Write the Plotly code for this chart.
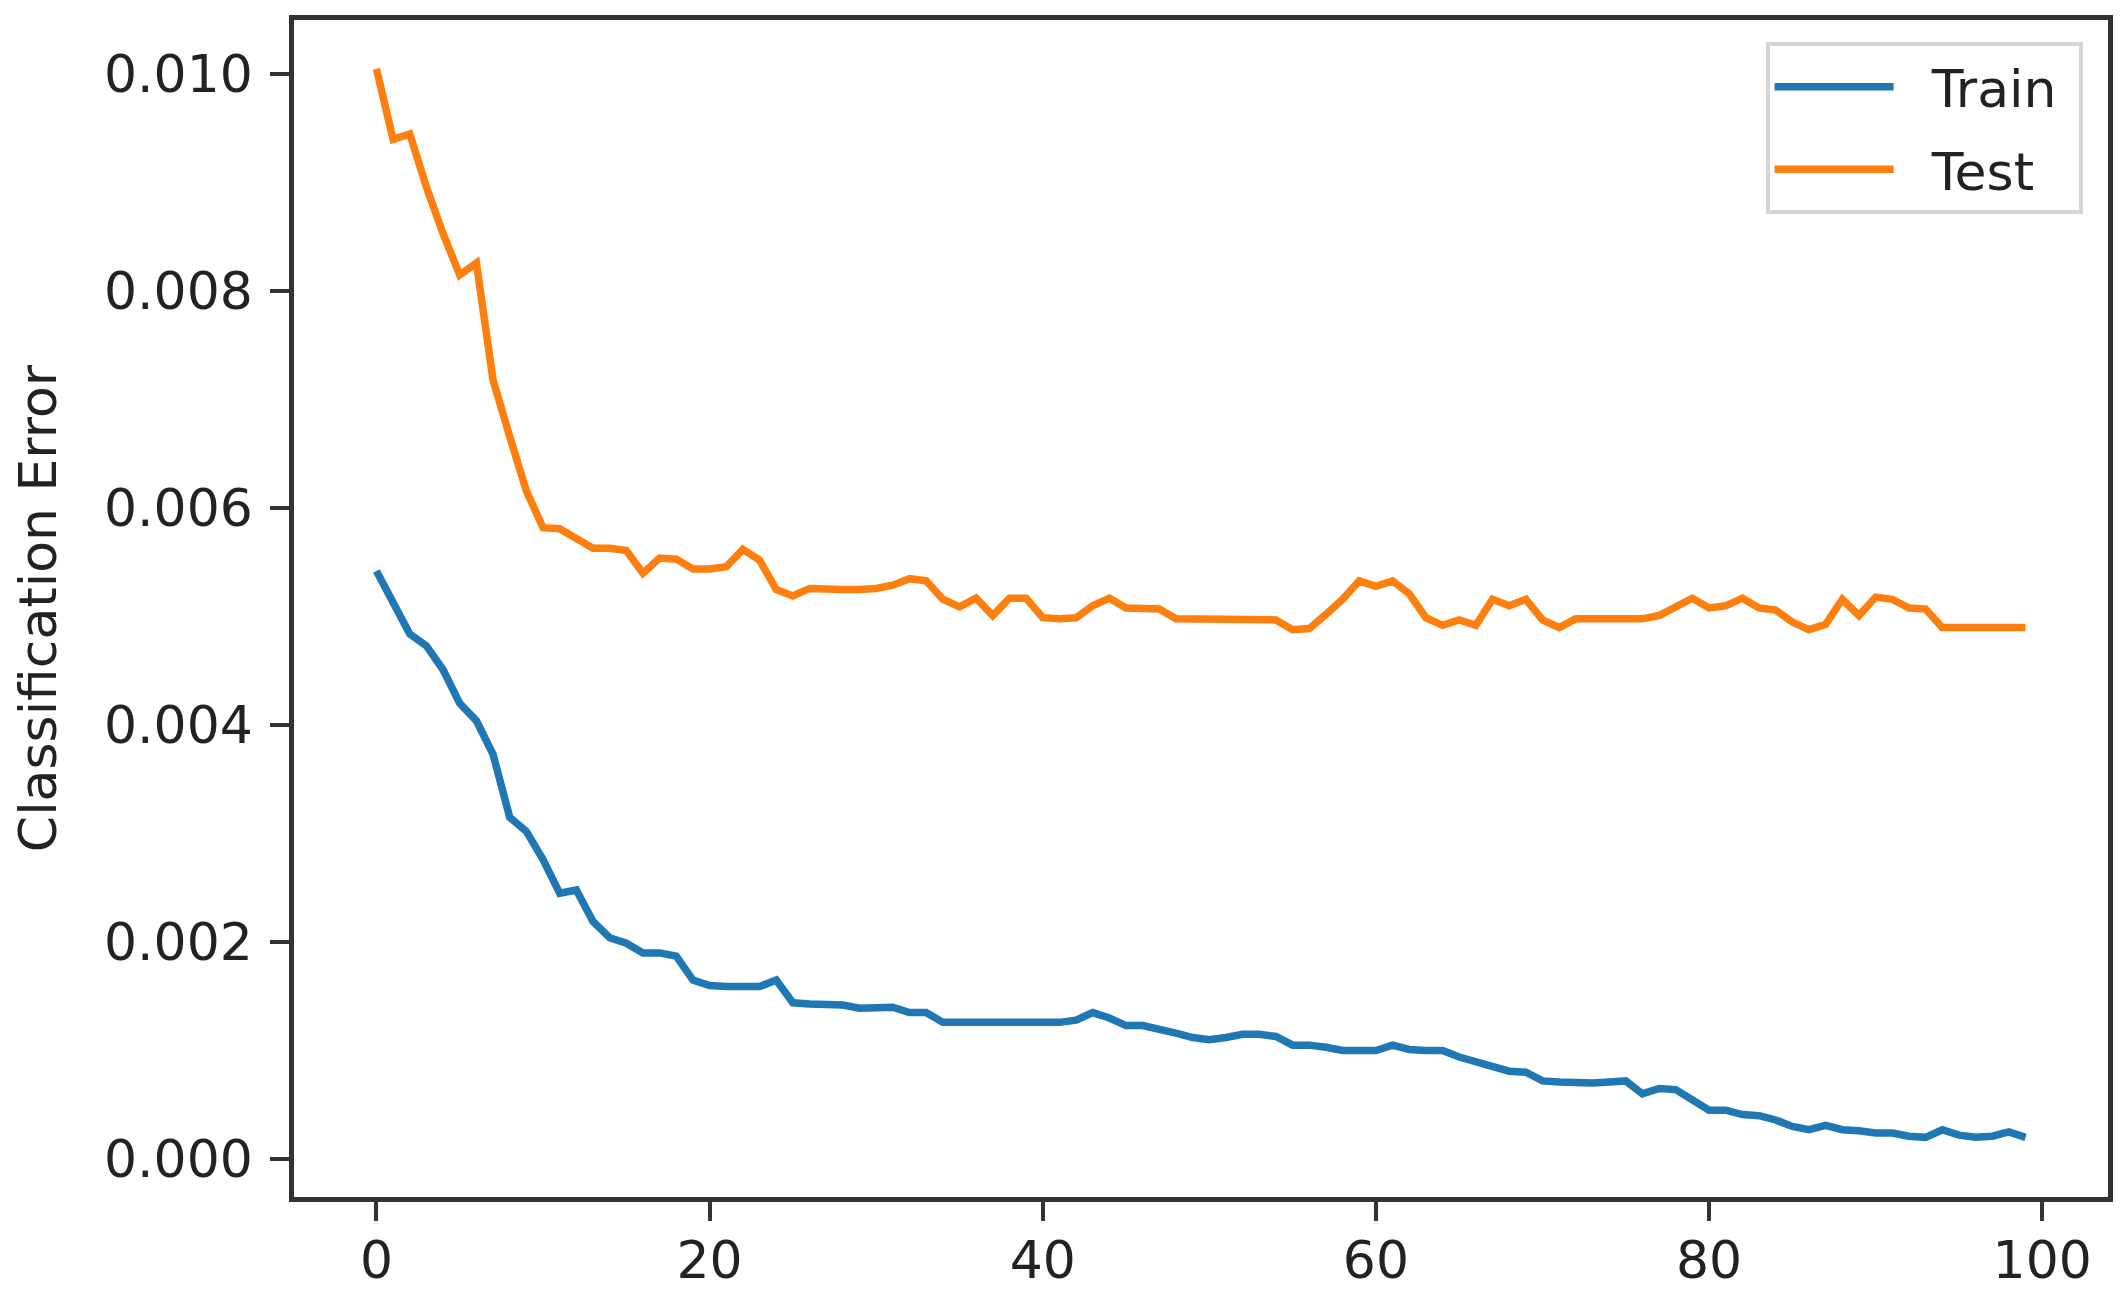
import plotly.graph_objects as go

epochs = list(range(100))

train_err_e4 = [
    54.2, 51.2, 48.4, 47.3, 45.1, 42.0, 40.4, 37.3, 31.5, 30.2,
    27.6, 24.5, 24.8, 21.9, 20.4, 19.9, 19.0, 19.0, 18.7, 16.5,
    16.0, 15.9, 15.9, 15.9, 16.5, 14.4, 14.3, 14.3, 14.2, 13.9,
    14.0, 14.0, 13.5, 13.5, 12.6, 12.6, 12.6, 12.6, 12.6, 12.6,
    12.6, 12.6, 12.8, 13.5, 13.0, 12.3, 12.3, 12.0, 11.6, 11.2,
    11.0, 11.2, 11.5, 11.5, 11.3, 10.5, 10.5, 10.3, 10.0, 10.0,
    10.0, 10.5, 10.1, 10.0, 10.0, 9.4, 9.0, 8.6, 8.1, 8.0,
    7.2, 7.1, 7.0, 7.0, 7.1, 7.2, 6.0, 6.5, 6.4, 5.5,
    4.5, 4.5, 4.1, 4.0, 3.6, 3.0, 2.7, 3.1, 2.7, 2.6,
    2.4, 2.4, 2.1, 2.0, 2.7, 2.2, 2.0, 2.1, 2.5, 2.0,
]

test_err_e4 = [
    100.5, 94.0, 94.5, 89.6, 85.3, 81.5, 82.6, 71.8, 66.6, 61.6,
    58.2, 58.1, 57.2, 56.3, 56.3, 56.1, 54.0, 55.4, 55.3, 54.4,
    54.4, 54.6, 56.2, 55.2, 52.5, 51.9, 52.6, 52.5, 52.5, 52.5,
    52.6, 52.9, 53.5, 53.3, 51.6, 50.9, 51.7, 50.1, 51.7, 51.7,
    49.9, 49.8, 49.9, 51.0, 51.7, 50.8, 50.8, 50.7, 49.8, 49.8,
    49.8, 49.8, 49.8, 49.8, 49.7, 48.8, 48.9, 50.2, 51.6, 53.3,
    52.8, 53.3, 52.1, 49.9, 49.2, 49.7, 49.2, 51.6, 51.0, 51.6,
    49.7, 49.0, 49.8, 49.8, 49.8, 49.8, 49.8, 50.1, 51.0, 51.7,
    50.8, 51.0, 51.7, 50.8, 50.6, 49.5, 48.8, 49.3, 51.6, 50.1,
    51.8, 51.6, 50.8, 50.7, 49.0, 49.0, 49.0, 49.0, 49.0, 49.0,
]

train_err = [v * 1e-4 for v in train_err_e4]
test_err = [v * 1e-4 for v in test_err_e4]

x_ticks = [0, 20, 40, 60, 80, 100]
y_ticks = [0.000, 0.002, 0.004, 0.006, 0.008, 0.010]
y_title = "Classification Error"
series_names = ["Train", "Test"]

FONT = "DejaVu Sans, Liberation Sans, sans-serif"
TXT = "#222222"
AX = "#333333"
NB = "\u00a0"

fig = go.Figure()
fig.add_trace(go.Scatter(x=epochs, y=train_err, mode="lines",
                         name=NB * 2 + series_names[0] + NB, legendgroup="a",
                         line=dict(color="#1f77b4", width=7.5)))
fig.add_trace(go.Scatter(x=epochs, y=test_err, mode="lines",
                         name=NB * 2 + series_names[1] + NB, legendgroup="b",
                         line=dict(color="#ff7f0e", width=7.5)))

axis_common = dict(
    showline=True, linecolor=AX, linewidth=4.5, mirror=True,
    showgrid=False, zeroline=False,
    ticks="outside", ticklen=19, tickwidth=4, tickcolor=AX,
    tickfont=dict(family=FONT, size=52, color=TXT),
)

fig.update_layout(
    width=2116, height=1304,
    margin=dict(l=286, r=16, t=7, b=115),
    paper_bgcolor="white", plot_bgcolor="white",
    font=dict(family=FONT, size=52, color=TXT),
    xaxis=dict(range=[-4.95, 103.95], tickvals=x_ticks,
               ticktext=[str(t) for t in x_ticks],
               ticklabelstandoff=-5, **axis_common),
    yaxis=dict(range=[-0.00035, 0.0105], tickvals=y_ticks,
               ticktext=[f"{t:.3f}" for t in y_ticks],
               title=dict(text=y_title, font=dict(family=FONT, size=52, color=TXT), standoff=44),
               ticklabelstandoff=7,
               **axis_common),
    legend=dict(x=0.986, y=0.981, xanchor="right", yanchor="top",
                bgcolor="white", bordercolor="#d5d5d5", borderwidth=4,
                font=dict(family=FONT, size=52, color=TXT),
                itemwidth=119, tracegroupgap=12),
    showlegend=True,
)

fig.write_html("out.html")
